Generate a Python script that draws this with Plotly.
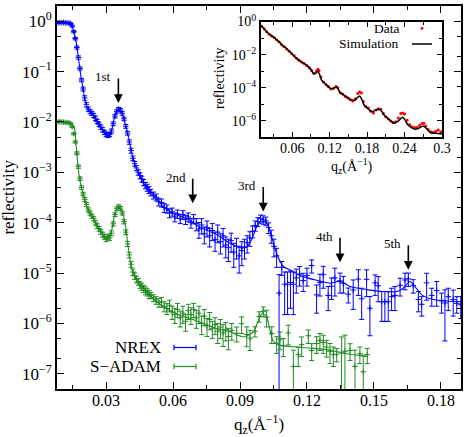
import math
import plotly.graph_objects as go

# ---------------- main panel: NREX data (q, reflectivity, error) ----------------
nrex_q = [0.0085, 0.0093, 0.0101, 0.0109, 0.0117, 0.0125, 0.0133, 0.0141, 0.0148, 0.0155,
          0.0162, 0.0169, 0.0176, 0.0183, 0.0190, 0.0197, 0.0204, 0.0212, 0.0220, 0.0228,
          0.0236, 0.0244, 0.0252, 0.0260, 0.0268, 0.0276, 0.0284, 0.0292, 0.0300, 0.0308,
          0.0316, 0.0324, 0.0332, 0.0340, 0.0348, 0.0356, 0.0364, 0.0372, 0.0380, 0.0388,
          0.0396, 0.0404, 0.0412, 0.0420, 0.0428, 0.0436, 0.0444, 0.0452, 0.0460, 0.0468,
          0.0476, 0.0484, 0.0492,
          0.0500, 0.0512, 0.0524, 0.0536, 0.0548, 0.0560, 0.0572, 0.0584, 0.0596, 0.0608,
          0.0620, 0.0632, 0.0644, 0.0656, 0.0668, 0.0680, 0.0692, 0.0704, 0.0716, 0.0728,
          0.0740, 0.0752, 0.0764, 0.0776, 0.0788, 0.0800, 0.0812, 0.0824, 0.0836, 0.0848,
          0.0860, 0.0872, 0.0884, 0.0896, 0.0908, 0.0920, 0.0932, 0.0944, 0.0956, 0.0968,
          0.0980, 0.0992, 0.1004, 0.1016, 0.1028, 0.1040, 0.1052, 0.1064,
          0.1075, 0.1087, 0.1100, 0.1113, 0.1126, 0.1139, 0.1152, 0.1167, 0.1183, 0.1200,
          0.1221, 0.1243, 0.1258, 0.1273, 0.1295, 0.1310, 0.1325, 0.1348, 0.1363, 0.1385,
          0.1407, 0.1430, 0.1445, 0.1467, 0.1482, 0.1505, 0.1519, 0.1535, 0.1549, 0.1564,
          0.1579, 0.1594, 0.1617, 0.1639, 0.1654, 0.1676, 0.1699, 0.1714, 0.1736, 0.1759,
          0.1781, 0.1803, 0.1818, 0.1833, 0.1855, 0.1871, 0.1889]
nrex_R = [0.93, 0.94, 0.93, 0.94, 0.93, 0.92, 0.92, 0.90, 0.80, 0.62,
          0.45, 0.30, 0.19, 0.115, 0.068, 0.045, 0.030, 0.022, 0.0180, 0.0160,
          0.0148, 0.0135, 0.0118, 0.0102, 0.0090, 0.0079, 0.0070, 0.0062, 0.0057, 0.0054,
          0.0056, 0.0066, 0.0092, 0.0130, 0.0162, 0.0180, 0.0172, 0.0148, 0.0115, 0.0082,
          0.0060, 0.0040, 0.0027, 0.0019, 0.00148, 0.00122, 0.00100, 0.00086, 0.00074, 0.00063,
          0.00055, 0.00050, 0.00045,
          4.0e-4, 3.5e-4, 3.2e-4, 2.6e-4, 2.5e-4, 2.0e-4, 1.9e-4, 1.55e-4, 1.65e-4, 1.3e-4,
          1.5e-4, 1.2e-4, 1.45e-4, 1.15e-4, 1.3e-4, 1.0e-4, 1.2e-4, 9.5e-5, 7.5e-5, 9.0e-5,
          6.0e-5, 8.0e-5, 5.5e-5, 7.0e-5, 4.6e-5, 6.5e-5, 4.2e-5, 5.5e-5, 3.6e-5, 3.2e-5,
          4.4e-5, 2.6e-5, 3.4e-5, 2.2e-5, 2.8e-5, 3.3e-5, 4.0e-5, 5.0e-5, 6.8e-5, 8.8e-5,
          1.05e-4, 1.2e-4, 1.15e-4, 1.08e-4, 8.0e-5, 5.5e-5, 3.4e-5, 2.2e-5,
          4.0e-6, 1.3e-5, 6.0e-6, 6.0e-6, 6.5e-6, 6.0e-6, 8.0e-6, 9.5e-6, 7.1e-6, 9.0e-6,
          1.41e-5, 3.7e-6, 6.5e-6, 9.3e-6, 3.6e-6, 5.5e-6, 8.0e-6, 7.0e-6, 6.3e-6, 3.8e-6,
          4.6e-6, 7.6e-6, 3.1e-6, 7.5e-6, 2.0e-6, 6.4e-6, 5.6e-6, 2.7e-6, 2.7e-6, 2.7e-6,
          3.4e-6, 3.6e-6, 5.7e-6, 7.3e-6, 7.7e-6, 5.7e-6, 3.0e-6, 2.4e-6, 6.4e-6, 3.6e-6,
          4.5e-6, 2.8e-6, 2.55e-6, 3.4e-6, 3.0e-6, 2.5e-6, 2.35e-6]
nrex_err = [0.03, 0.03, 0.03, 0.03, 0.03, 0.03, 0.03, 0.03, 0.035, 0.03,
            0.025, 0.02, 0.014, 0.008, 0.005, 0.004, 0.003, 0.0022, 0.0017, 0.0015,
            0.0014, 0.0013, 0.0012, 0.0010, 0.0009, 0.0008, 0.0007, 0.0006, 0.0006, 0.0005,
            0.0005, 0.0006, 0.0008, 0.0010, 0.0012, 0.0013, 0.0013, 0.0012, 0.0009, 0.0007,
            0.0005, 0.0004, 0.0003, 0.0002, 0.00016, 0.00014, 0.00012, 0.00011, 0.0001, 0.00009,
            0.00008, 0.00008, 0.00007,
            6e-5, 5.5e-5, 5e-5, 4.5e-5, 4.5e-5, 4e-5, 3.5e-5, 3e-5, 3e-5, 2.6e-5,
            2.8e-5, 2.4e-5, 2.8e-5, 2.3e-5, 2.6e-5, 2.2e-5, 2.5e-5, 2.6e-5, 2.6e-5, 3e-5,
            2.2e-5, 2.8e-5, 2.2e-5, 2.6e-5, 1.9e-5, 2.5e-5, 1.8e-5, 2.2e-5, 1.6e-5, 1.5e-5,
            1.8e-5, 1.3e-5, 1.5e-5, 1.2e-5, 1.4e-5, 1.4e-5, 1.5e-5, 1.6e-5, 1.8e-5, 2e-5,
            2.1e-5, 2.2e-5, 2.2e-5, 2.1e-5, 1.9e-5, 1.6e-5, 1.3e-5, 9e-6,
            5.3e-6, 4e-6, 4.5e-6, 4.5e-6, 4.5e-6, 4.5e-6, 4e-6, 4e-6, 2.8e-6, 3.5e-6,
            4.1e-6, 2.1e-6, 3.0e-6, 4.3e-6, 1.8e-6, 2.5e-6, 4.5e-6, 3.0e-6, 2.3e-6, 1.25e-6,
            2.7e-6, 4.0e-6, 1.9e-6, 4.1e-6, 1.43e-6, 2.8e-6, 2.9e-6, 1.6e-6, 1.6e-6, 1.6e-6,
            1.6e-6, 1.8e-6, 2.2e-6, 2.65e-6, 2.3e-6, 1.7e-6, 1.3e-6, 1.0e-6, 3.5e-6, 1.4e-6,
            2.3e-6, 1.2e-6, 2.1e-6, 1.6e-6, 1.6e-6, 0.9e-6, 1.1e-6]

# NREX fitted curve
nrex_fit_q = [0.008, 0.0146, 0.0153, 0.0161, 0.0168, 0.0175, 0.0183, 0.0191, 0.0198, 0.0205,
              0.022, 0.0243, 0.0265, 0.0287, 0.031, 0.0325, 0.034, 0.0355, 0.037, 0.0385,
              0.040, 0.0407, 0.0415, 0.043, 0.0444, 0.0467, 0.0497, 0.0527, 0.0556, 0.0594,
              0.0631, 0.0676, 0.072, 0.0758, 0.0795, 0.0855, 0.090, 0.093, 0.0952, 0.0975,
              0.0997, 0.102, 0.1042, 0.1064, 0.1094, 0.1124, 0.1169, 0.1243, 0.1303, 0.1348,
              0.1393, 0.1467, 0.1542, 0.1602, 0.1631, 0.1661, 0.1684, 0.1714, 0.1766, 0.1826,
              0.1893]
nrex_fit_R = [0.93, 0.87, 0.668, 0.49, 0.339, 0.2, 0.107, 0.063, 0.0427, 0.0275,
              0.0174, 0.0138, 0.0093, 0.00646, 0.0055, 0.0069, 0.0138, 0.0178, 0.0158, 0.0093,
              0.0051, 0.00355, 0.0024, 0.00141, 0.001, 6.0e-4, 4.2e-4, 3.0e-4, 2.1e-4, 1.55e-4,
              1.35e-4, 1.12e-4, 8.1e-5, 6.9e-5, 5.8e-5, 3.9e-5, 3.2e-5, 3.3e-5, 4.6e-5, 8.3e-5,
              1.07e-4, 9.8e-5, 5.2e-5, 2.45e-5, 1.35e-5, 1.15e-5, 8.9e-6, 7.2e-6, 6.3e-6, 6.9e-6,
              5.4e-6, 4.7e-6, 4.3e-6, 4.3e-6, 5.0e-6, 6.8e-6, 5.4e-6, 3.7e-6, 3.0e-6, 2.8e-6,
              2.7e-6]

# ---------------- main panel: S-ADAM data ----------------
sadam_q = [0.0085, 0.0093, 0.0101, 0.0109, 0.0117, 0.0125, 0.0133, 0.0141, 0.0148, 0.0155,
           0.0162, 0.0169, 0.0176, 0.0183, 0.0190, 0.0197, 0.0204, 0.0212, 0.0220, 0.0228,
           0.0236, 0.0244, 0.0252, 0.0260, 0.0268, 0.0276, 0.0284, 0.0292, 0.0300, 0.0308,
           0.0316, 0.0324, 0.0332, 0.0340, 0.0348, 0.0356, 0.0364, 0.0372, 0.0380, 0.0388,
           0.0396, 0.0404, 0.0412, 0.0420, 0.0428, 0.0436, 0.0444, 0.0452, 0.0460, 0.0468,
           0.0476, 0.0484, 0.0492,
           0.0500, 0.0512, 0.0524, 0.0536, 0.0548, 0.0560, 0.0572, 0.0584, 0.0596, 0.0608,
           0.0620, 0.0632, 0.0644, 0.0656, 0.0668, 0.0680, 0.0692, 0.0704, 0.0716, 0.0728,
           0.0740, 0.0752, 0.0764, 0.0776, 0.0788, 0.0800, 0.0812, 0.0824, 0.0836, 0.0848,
           0.0863, 0.0885, 0.0907, 0.0930, 0.0945, 0.0967, 0.0986, 0.1004, 0.1019, 0.1042,
           0.1064, 0.1079, 0.1094, 0.1116, 0.1139, 0.1161, 0.1176, 0.1206, 0.1221, 0.1243,
           0.1258, 0.1273, 0.1288, 0.1303, 0.1318, 0.1333, 0.1355, 0.1370, 0.1393, 0.1415,
           0.1437, 0.1452, 0.1470]
sadam_R = [1.00e-2, 1.01e-2, 1.00e-2, 0.99e-2, 0.98e-2, 0.97e-2, 0.96e-2, 0.93e-2, 0.80e-2, 0.58e-2,
           0.40e-2, 0.24e-2, 0.13e-2, 7.5e-4, 5.0e-4, 3.7e-4, 2.9e-4, 2.3e-4, 1.8e-4, 1.55e-4,
           1.35e-4, 1.2e-4, 1.0e-4, 8.6e-5, 7.6e-5, 6.6e-5, 5.8e-5, 5.3e-5, 4.8e-5, 5.3e-5,
           5.0e-5, 6.2e-5, 9.5e-5, 1.45e-4, 1.9e-4, 2.1e-4, 1.95e-4, 1.55e-4, 1.05e-4, 6.5e-5,
           3.8e-5, 2.3e-5, 1.5e-5, 1.05e-5, 8.8e-6, 7.5e-6, 6.8e-6, 5.8e-6, 5.4e-6, 4.9e-6,
           4.5e-6, 4.2e-6, 3.8e-6,
           3.6e-6, 3.2e-6, 2.9e-6, 2.6e-6, 2.7e-6, 2.2e-6, 2.0e-6, 2.3e-6, 1.7e-6, 1.5e-6,
           1.9e-6, 1.3e-6, 1.6e-6, 1.1e-6, 1.8e-6, 1.5e-6, 1.9e-6, 1.3e-6, 1.6e-6, 1.0e-6,
           1.4e-6, 9.0e-7, 1.2e-6, 8.0e-7, 9.5e-7, 7.0e-7, 8.5e-7, 6.5e-7, 7.5e-7, 5.5e-7,
           7.3e-7, 6.4e-7, 9.9e-7, 6.0e-7, 5.1e-7, 7.0e-7, 1.38e-6, 1.74e-6, 1.34e-6, 6.3e-7,
           4.0e-7, 4.9e-7, 3.6e-7, 6.5e-7, 1.4e-7, 2.4e-7, 3.8e-7, 5.7e-7, 2.9e-7, 4.0e-7,
           4.6e-7, 4.2e-7, 3.4e-7, 2.8e-7, 2.4e-7, 2.45e-7, 2.6e-7, 2.8e-7, 2.9e-7, 1.4e-7,
           2.5e-7, 1.1e-7, 2.4e-7]
sadam_err = [3e-4, 3e-4, 3e-4, 3e-4, 3e-4, 3e-4, 3e-4, 3e-4, 3e-4, 2.5e-4,
             2e-4, 1.5e-4, 1e-4, 6e-5, 4e-5, 3e-5, 2.5e-5, 2e-5, 1.6e-5, 1.4e-5,
             1.2e-5, 1.1e-5, 1e-5, 9e-6, 8e-6, 7e-6, 6.5e-6, 6e-6, 6e-6, 6e-6,
             6e-6, 7e-6, 9e-6, 1.2e-5, 1.5e-5, 1.6e-5, 1.5e-5, 1.3e-5, 1e-5, 7e-6,
             4.5e-6, 3e-6, 2e-6, 1.5e-6, 1.3e-6, 1.1e-6, 1.0e-6, 9e-7, 9e-7, 8e-7,
             8e-7, 7e-7, 7e-7,
             5e-7, 5e-7, 5e-7, 5e-7, 6e-7, 5e-7, 5e-7, 6e-7, 5e-7, 5e-7,
             6e-7, 4.5e-7, 6e-7, 4e-7, 6e-7, 5.5e-7, 6e-7, 5e-7, 6e-7, 4e-7,
             5e-7, 3.5e-7, 4.5e-7, 3e-7, 3.5e-7, 3e-7, 3.5e-7, 3e-7, 3e-7, 2.5e-7,
             2.65e-7, 2.1e-7, 3.6e-7, 2.55e-7, 2.2e-7, 1.6e-7, 3.2e-7, 3.9e-7, 4.9e-7, 2.3e-7,
             1.45e-7, 1.9e-7, 1.4e-7, 2.75e-7, 1.55e-7, 1.0e-7, 1.6e-7, 1.7e-7, 1.06e-7, 1.45e-7,
             1.7e-7, 1.65e-7, 1.25e-7, 1.2e-7, 1.0e-7, 0.72e-7, 2.8e-7, 3.05e-7, 1.06e-7, 1.55e-7,
             0.9e-7, 1.25e-7, 0.8e-7]

# S-ADAM fitted curve
sadam_fit_q = [0.008, 0.0146, 0.016, 0.0165, 0.0171, 0.018, 0.019, 0.0205, 0.022, 0.0243,
               0.0265, 0.0287, 0.0305, 0.0325, 0.034, 0.0355, 0.037, 0.0385, 0.0395, 0.0405,
               0.0415, 0.0437, 0.0467, 0.0504, 0.0541, 0.0586, 0.0631, 0.0676, 0.0735, 0.0795,
               0.0855, 0.0915, 0.096, 0.0982, 0.100, 0.102, 0.1034, 0.1049, 0.1079, 0.1154,
               0.1228, 0.1303, 0.1378, 0.1467]
sadam_fit_R = [1.02e-2, 9.1e-3, 6.9e-3, 3.8e-3, 1.8e-3, 8.1e-4, 4.8e-4, 2.8e-4, 1.78e-4, 1.23e-4,
               7.8e-5, 5.8e-5, 4.9e-5, 7.2e-5, 1.55e-4, 2.1e-4, 1.78e-4, 9.8e-5, 4.6e-5, 2.1e-5,
               1.2e-5, 7.2e-6, 4.9e-6, 3.4e-6, 2.4e-6, 1.8e-6, 1.45e-6, 1.26e-6, 1.0e-6, 7.9e-7,
               6.8e-7, 5.4e-7, 6.8e-7, 1.15e-6, 1.6e-6, 1.35e-6, 7.4e-7, 4.4e-7, 3.7e-7, 3.4e-7,
               3.2e-7, 2.95e-7, 2.5e-7, 2.2e-7]

# Bragg peak markers
arrow_q = [0.0355, 0.0688, 0.1004, 0.1348, 0.1654]
arrow_R = [0.0238, 2.43e-4, 1.66e-4, 1.64e-5, 1.16e-5]
arrow_labels = ["1st", "2nd", "3rd", "4th", "5th"]

# ---------------- inset ----------------
inset_data_q = [0.011, 0.015, 0.019, 0.023, 0.027, 0.031, 0.035, 0.039, 0.043, 0.047,
                0.051, 0.055, 0.059, 0.063, 0.067, 0.071, 0.075, 0.079, 0.083, 0.087,
                0.091, 0.095, 0.099, 0.101, 0.103, 0.106, 0.110, 0.114, 0.118, 0.122,
                0.126, 0.130, 0.133, 0.137, 0.141, 0.145, 0.149, 0.153, 0.157, 0.161,
                0.165, 0.168, 0.171, 0.174, 0.178, 0.182, 0.186, 0.190, 0.194, 0.198,
                0.202, 0.206, 0.210, 0.214, 0.218, 0.222, 0.226, 0.230, 0.234, 0.237,
                0.240, 0.244, 0.248, 0.252, 0.256, 0.260, 0.264, 0.268, 0.271, 0.274,
                0.278, 0.282, 0.286, 0.290, 0.294, 0.298]
inset_data_R = [0.52, 0.36, 0.24, 0.17, 0.135, 0.11, 0.08, 0.058, 0.040, 0.030,
                0.022, 0.016, 0.0115, 0.0085, 0.0060, 0.0046, 0.0036, 0.0029, 0.0022, 0.0016,
                0.0011, 0.00075, 0.0010, 0.0013, 0.0011, 0.00045, 0.00022, 0.00016, 0.00012, 8.5e-5,
                9.0e-5, 1.2e-4, 1.0e-4, 5.0e-5, 4.2e-5, 3.0e-5, 2.4e-5, 1.9e-5, 1.6e-5, 2.2e-5,
                4.5e-5, 5.8e-5, 4.8e-5, 1.5e-5, 7.5e-6, 6.0e-6, 3.8e-6, 3.0e-6, 4.5e-6, 5.5e-6,
                5.0e-6, 2.8e-6, 1.8e-6, 1.3e-6, 1.0e-6, 8.0e-7, 9.0e-7, 1.5e-6, 2.8e-6, 3.0e-6,
                2.6e-6, 1.1e-6, 6.0e-7, 4.5e-7, 4.0e-7, 4.2e-7, 5.5e-7, 7.0e-7, 7.2e-7, 5.0e-7,
                3.0e-7, 2.2e-7, 2.0e-7, 2.4e-7, 2.8e-7, 2.2e-7]
inset_sim_q = [0.010, 0.015, 0.020, 0.025, 0.030, 0.035, 0.0407, 0.045, 0.050, 0.0567,
               0.0674, 0.075, 0.0835, 0.090, 0.094, 0.098, 0.1004, 0.1035, 0.107, 0.114,
               0.121, 0.127, 0.131, 0.137, 0.145, 0.153, 0.161, 0.164, 0.168, 0.172,
               0.175, 0.181, 0.188, 0.194, 0.199, 0.203, 0.207, 0.215, 0.223, 0.230,
               0.237, 0.241, 0.245, 0.256, 0.262, 0.270, 0.275, 0.281, 0.290, 0.300]
inset_sim_R = [0.575, 0.355, 0.224, 0.158, 0.115, 0.079, 0.052, 0.035, 0.025, 0.0145,
               5.8e-3, 3.5e-3, 2.3e-3, 1.26e-3, 7.2e-4, 7.6e-4, 1.0e-3, 7.0e-4, 2.9e-4, 1.6e-4,
               9.1e-5, 9.5e-5, 1.15e-4, 5.0e-5, 3.2e-5, 2.0e-5, 1.8e-5, 2.5e-5, 3.2e-5, 1.8e-5,
               9.1e-6, 5.6e-6, 3.6e-6, 4.5e-6, 5.0e-6, 4.0e-6, 2.3e-6, 1.26e-6, 7.2e-7, 1.0e-6,
               1.66e-6, 1.12e-6, 5.8e-7, 3.2e-7, 3.5e-7, 5.0e-7, 3.5e-7, 2.0e-7, 1.8e-7, 1.66e-7]

# ---------------- ticks ----------------
main_xtick_vals = [0.03, 0.06, 0.09, 0.12, 0.15, 0.18]
main_xtick_text = ["0.03", "0.06", "0.09", "0.12", "0.15", "0.18"]
main_ytick_vals = [1, 1e-1, 1e-2, 1e-3, 1e-4, 1e-5, 1e-6, 1e-7]
main_ytick_text = ["10<sup>0</sup>", "10<sup>\u22121</sup>", "10<sup>\u22122</sup>", "10<sup>\u22123</sup>",
                   "10<sup>\u22124</sup>", "10<sup>\u22125</sup>", "10<sup>\u22126</sup>", "10<sup>\u22127</sup>"]
inset_xtick_vals = [0.06, 0.12, 0.18, 0.24, 0.30]
inset_xtick_text = ["0.06", "0.12", "0.18", "0.24", "0.3"]
inset_ytick_vals = [1, 1e-2, 1e-4, 1e-6]
inset_ytick_text = ["10<sup>0</sup>", "10<sup>\u22122</sup>", "10<sup>\u22124</sup>", "10<sup>\u22126</sup>"]
inset_yminor_vals = [1e-1, 1e-3, 1e-5, 1e-7]

BLUE = "#0000ff"
GREEN = "#228b22"
RED = "#ff0000"
FONT = "Liberation Serif"

fig = go.Figure()

fig.add_trace(go.Scatter(x=nrex_fit_q, y=nrex_fit_R, mode="lines",
                         line=dict(color=BLUE, width=1.1, shape="spline", smoothing=0.6),
                         showlegend=False, hoverinfo="skip"))
fig.add_trace(go.Scatter(x=nrex_q, y=nrex_R, mode="markers",
                         marker=dict(symbol="cross-thin", size=4, color=BLUE, line=dict(color=BLUE, width=1)),
                         error_y=dict(type="data", array=nrex_err, color=BLUE, thickness=1.0, width=2.5),
                         showlegend=False))
fig.add_trace(go.Scatter(x=sadam_fit_q, y=sadam_fit_R, mode="lines",
                         line=dict(color=GREEN, width=1.1, shape="spline", smoothing=0.6),
                         showlegend=False, hoverinfo="skip"))
fig.add_trace(go.Scatter(x=sadam_q, y=sadam_R, mode="markers",
                         marker=dict(symbol="cross-thin", size=4, color=GREEN, line=dict(color=GREEN, width=1)),
                         error_y=dict(type="data", array=sadam_err, color=GREEN, thickness=1.0, width=2.5),
                         showlegend=False))

# inset traces
fig.add_trace(go.Scatter(x=inset_data_q, y=inset_data_R, mode="markers", xaxis="x2", yaxis="y2",
                         marker=dict(size=3, color=RED), showlegend=False))
fig.add_trace(go.Scatter(x=inset_sim_q, y=inset_sim_R, mode="lines", xaxis="x2", yaxis="y2",
                         line=dict(color="black", width=1.5, shape="spline", smoothing=0.6), showlegend=False))

axis_common = dict(showgrid=False, zeroline=False, showline=True, linecolor="black", linewidth=2,
                   mirror="allticks", ticks="inside", tickcolor="black", tickwidth=1.2, automargin=False)

fig.update_layout(
    template="none",
    width=469, height=437,
    margin=dict(l=57, r=8, t=6, b=48, autoexpand=False),
    paper_bgcolor="white", plot_bgcolor="white",
    font=dict(family=FONT, color="black", size=16),
    showlegend=False,
    xaxis=dict(**axis_common, range=[0.008, 0.189], tickmode="array", tickvals=main_xtick_vals,
               ticktext=main_xtick_text, ticklen=7, tickfont=dict(size=16), ticklabelstandoff=-4,
               minor=dict(ticks="inside", ticklen=4, dtick=0.015, tick0=0, tickcolor="black")),
    yaxis=dict(**axis_common, type="log", range=[-7.301, 0.301], tickmode="array",
               tickvals=main_ytick_vals, ticktext=main_ytick_text, ticklen=7, tickfont=dict(size=17),
               minor=dict(ticks="inside", ticklen=4, dtick="D2", tickcolor="black")),
    xaxis2=dict(**axis_common, domain=[0.505, 0.953], anchor="y2", range=[0.01, 0.3],
                tickmode="array", tickvals=inset_xtick_vals, ticktext=inset_xtick_text,
                ticklen=5, tickfont=dict(size=14), ticklabelstandoff=-3,
                minor=dict(ticks="inside", ticklen=3, dtick=0.03, tick0=0, tickcolor="black")),
    yaxis2=dict(**axis_common, domain=[0.6567, 0.9595], anchor="x2", type="log", range=[-7, 0],
                tickmode="array", tickvals=inset_ytick_vals, ticktext=inset_ytick_text,
                ticklen=5, tickfont=dict(size=14),
                minor=dict(ticks="inside", ticklen=3, tickvals=inset_yminor_vals, tickcolor="black")),
)

ann = []
# axis titles
ann.append(dict(text="q<sub>z</sub>(\u00c5<sup>\u22121</sup>)", xref="paper", yref="paper", x=0.5, y=-0.092,
                showarrow=False, font=dict(size=17), xanchor="center", yanchor="middle"))
ann.append(dict(text="reflectivity", xref="paper", yref="paper", x=-0.121, y=0.5, textangle=-90,
                showarrow=False, font=dict(size=17), xanchor="center", yanchor="middle"))
ann.append(dict(text="q<sub>z</sub>(\u00c5<sup>\u22121</sup>)", xref="paper", yref="paper", x=0.729, y=0.583,
                showarrow=False, font=dict(size=14), xanchor="center", yanchor="middle"))
ann.append(dict(text="reflectivity", xref="paper", yref="paper", x=0.4035, y=0.8094, textangle=-90,
                showarrow=False, font=dict(size=14), xanchor="center", yanchor="middle"))
# peak arrows and labels (annotation y on a log axis is given in log10 units)
for q, r, lab in zip(arrow_q, arrow_R, arrow_labels):
    ly = math.log10(r)
    ann.append(dict(x=q, y=ly, xref="x", yref="y", text="", showarrow=True, arrowhead=2,
                    arrowsize=1.1, arrowwidth=1.6, arrowcolor="black", ax=0, ay=-26))
    ann.append(dict(x=q, y=ly, xref="x", yref="y", text=lab, showarrow=False, font=dict(size=13),
                    xanchor="right", yanchor="middle", xshift=-5, yshift=26))
# main legend
ann.append(dict(text="NREX", xref="paper", yref="paper", x=0.2624, y=0.1084, showarrow=False,
                font=dict(size=17), xanchor="right", yanchor="middle"))
ann.append(dict(text="S\u2212ADAM", xref="paper", yref="paper", x=0.2624, y=0.0587, showarrow=False,
                font=dict(size=17), xanchor="right", yanchor="middle"))
# inset legend
ann.append(dict(text="Data", xref="paper", yref="paper", x=0.849, y=0.9413, showarrow=False,
                font=dict(size=13.5), xanchor="right", yanchor="middle", borderpad=0))
ann.append(dict(text="Simulation", xref="paper", yref="paper", x=0.849, y=0.9008, showarrow=False,
                font=dict(size=13.5), xanchor="right", yanchor="middle", borderpad=0))
fig.update_layout(annotations=ann)

shapes = []
for yy, col in [(0.1084, BLUE), (0.0587, GREEN)]:
    shapes.append(dict(type="line", xref="paper", yref="paper", x0=0.2896, x1=0.344, y0=yy, y1=yy,
                       line=dict(color=col, width=1.2)))
    for xx in (0.2896, 0.344):
        shapes.append(dict(type="line", xref="paper", yref="paper", x0=xx, x1=xx, y0=yy - 0.007, y1=yy + 0.007,
                           line=dict(color=col, width=1.2)))
shapes.append(dict(type="circle", xref="paper", yref="paper", x0=0.9, x1=0.907, y0=0.9375, y1=0.9451,
                   fillcolor=RED, line=dict(width=0)))
shapes.append(dict(type="line", xref="paper", yref="paper", x0=0.8787, x1=0.9282, y0=0.9008, y1=0.9008,
                   line=dict(color="black", width=1.5)))
fig.update_layout(shapes=shapes)

fig.write_html("out.html", config={"displayModeBar": False},
               post_script="document.body.style.margin='0px';")
